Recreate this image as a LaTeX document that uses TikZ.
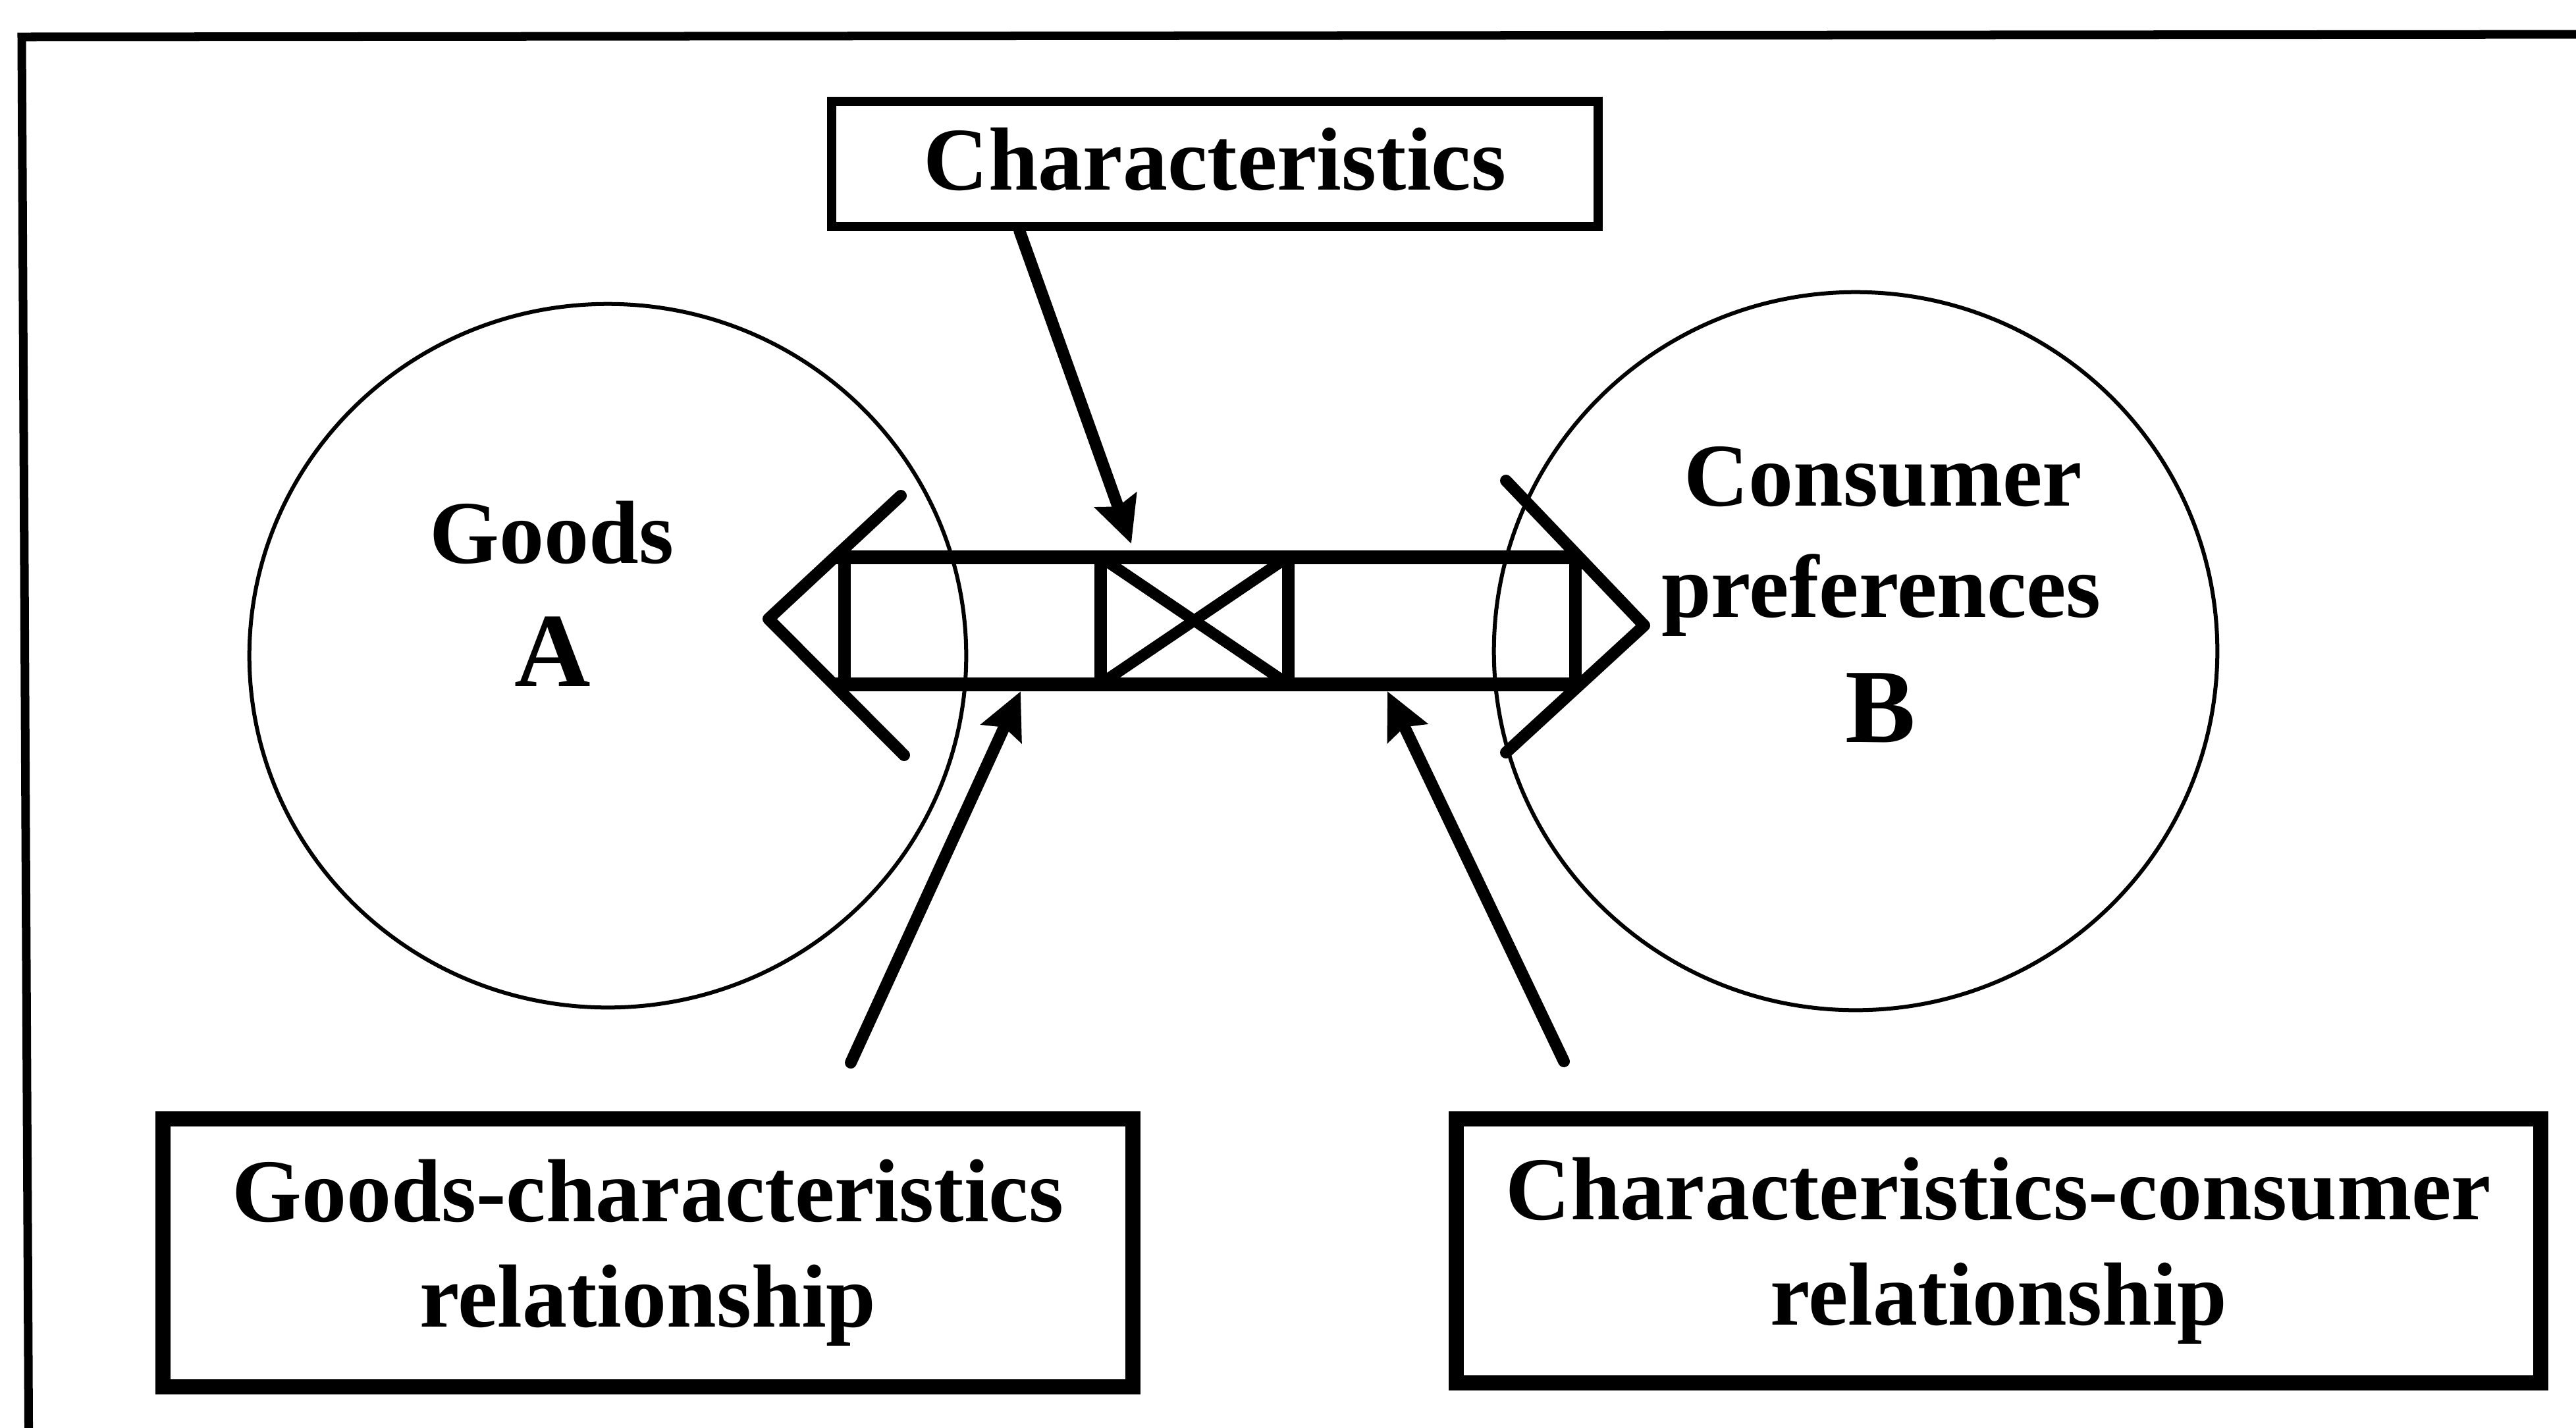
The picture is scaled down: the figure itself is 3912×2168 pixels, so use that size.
\documentclass[tikz,border=0pt]{standalone}
\usepackage{fontspec}
\setmainfont{Liberation Serif}
\usetikzlibrary{arrows.meta,calc}

\tikzset{
  bodyfont/.style={font=\bfseries\fontsize{38.7pt}{45.5pt}\selectfont},
  bigfont/.style={font=\bfseries\fontsize{45.5pt}{50pt}\selectfont},
  labelbox/.style={draw, bodyfont, align=center, inner sep=0pt, line width=0.23cm},
  ring/.style={draw, line width=0.06cm},
  barline/.style={line width=0.21cm},
  chevron/.style={line width=0.18cm, line cap=round, line join=round},
  pointer/.style={line width=0.18cm, line cap=round,
    -{Stealth[length=0.7cm,width=0.66cm,inset=0.1cm]}},
  caption/.style={anchor=base, inner sep=0pt},
}

\begin{document}
\begin{tikzpicture}[x=0.01cm,y=-0.01cm]
\useasboundingbox (0,0) rectangle (3912,2168);
\clip (0,0) rectangle (3912,2168);
\fill[white] (0,0) rectangle (3912,2168);

% outer frame: only its top and left edges lie inside the page
\draw[line width=0.13cm] (44,2260) -- (33,56) -- (4000,52);

% the two sets
\draw[ring] (923,996) ellipse [x radius=5.44cm, y radius=5.34cm];
\draw[ring] (2818,989) ellipse [x radius=5.49cm, y radius=5.45cm];

% set captions
\node[caption, bodyfont] (goodsname) at (838,855) {Goods};
\node[caption, bigfont] (goodsletter) at (839,1042) {A};
\node[caption, bodyfont] (consname) at (2860,768) {Consumer};
\node[caption, bodyfont] (prefname) at (2857,937) {preferences};
\node[caption, bigfont] (consletter) at (2856,1127) {B};

% labelled boxes
\node[labelbox, line width=0.14cm, minimum width=11.63cm, minimum height=1.89cm,
      text depth=0.16cm] (chars) at (1845,249) {Characteristics};
\node[labelbox, minimum width=14.72cm, minimum height=4.06cm]
      (gcrel) at (984,1903) {Goods-characteristics\\relationship};
\node[labelbox, minimum width=16.46cm, minimum height=4.0cm]
      (ccrel) at (3035,1900) {Characteristics-consumer\\relationship};

% double-headed bar linking the sets
\draw[barline] (1268,846) -- (2398,846);
\draw[barline] (1266,1039) -- (2400,1039);
\foreach \x in {1282,1671,1956,2392}
  \draw[line width=0.19cm] (\x,846) -- (\x,1039);
\draw[line width=0.17cm] (1671,846) -- (1956,1039) (1671,1039) -- (1956,846);
\draw[chevron] (1368,753) -- (1167,940) -- (1373,1147);
\draw[chevron] (2287,730) -- (2497,950) -- (2287,1143);

% arrow targets on the bar and free arrow ends
\coordinate (tipC) at (1718,826);
\coordinate (tipG) at (1550,1050);
\coordinate (tipP) at (2107,1050);
\coordinate (srcG) at (1292,1614);
\coordinate (srcP) at (2375,1612);

\draw[pointer] ($(chars.south west)!0.248!(chars.south east)$) -- (tipC);
\draw[pointer] (srcG) -- (tipG);
\draw[pointer] (srcP) -- (tipP);
\end{tikzpicture}
\end{document}
